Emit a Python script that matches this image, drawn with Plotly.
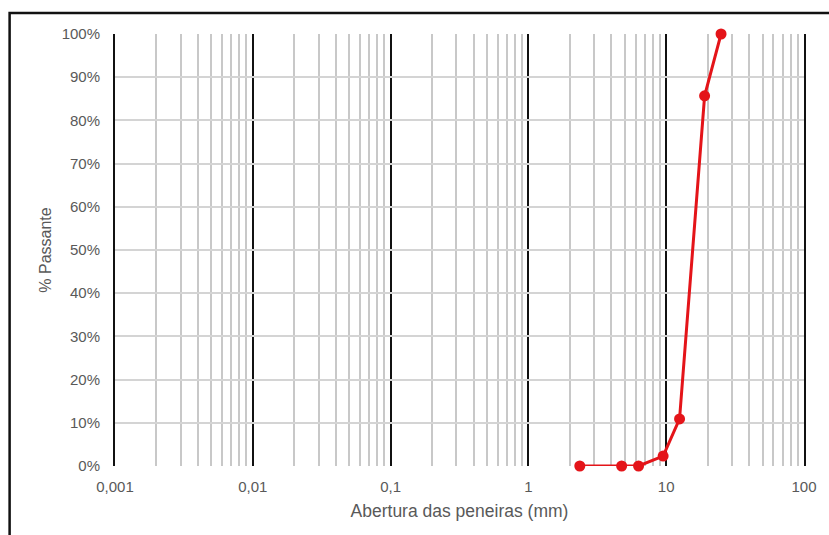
import plotly.graph_objects as go

# Sieve openings (mm) and cumulative percent passing
abertura_mm = [2.36, 4.75, 6.3, 9.5, 12.5, 19.0, 25.0]
passante_pct = [0.0, 0.0, 0.0, 2.3, 10.9, 85.7, 100.0]

x_tick_vals = [0.001, 0.01, 0.1, 1, 10, 100]
x_tick_text = ["0,001", "0,01", "0,1", "1", "10", "100"]
y_tick_vals = [0, 10, 20, 30, 40, 50, 60, 70, 80, 90, 100]
y_tick_text = [f"{v}%" for v in y_tick_vals]

# minor grid at 2..9 within every decade
minor_vals = [m * d for d in x_tick_vals[:-1] for m in range(2, 10)]

W, H = 829, 535
ML, MR, MT, MB = 115, 21, 34, 69
pw, ph = W - ML - MR, H - MT - MB

FONT = "Liberation Sans, Arial, sans-serif"
GREY_TXT = "#595959"

fig = go.Figure()
fig.add_trace(go.Scatter(
    x=abertura_mm, y=passante_pct, mode="lines+markers",
    line=dict(color="#e41419", width=3),
    marker=dict(color="#e41419", size=11),
    showlegend=False, cliponaxis=False,
))

fig.update_layout(
    width=W, height=H,
    margin=dict(l=ML, r=MR, t=MT, b=MB),
    paper_bgcolor="white", plot_bgcolor="white",
    xaxis=dict(
        type="log", range=[-3, 2],
        tickvals=x_tick_vals, ticktext=x_tick_text,
        showgrid=True, gridcolor="#111111", gridwidth=2,
        zeroline=False, showline=False,
        tickfont=dict(family=FONT, size=15, color=GREY_TXT),
        ticks="", ticklabelstandoff=10,
        minor=dict(tickvals=minor_vals, showgrid=True,
                   gridcolor="#c8c8c8", gridwidth=1.5, ticks=""),
        title=dict(text="Abertura das peneiras (mm)", standoff=10,
                   font=dict(family=FONT, size=17.5, color=GREY_TXT)),
    ),
    yaxis=dict(
        range=[0, 100], tickvals=y_tick_vals, ticktext=y_tick_text,
        showgrid=True, gridcolor="#d4d4d4", gridwidth=1.5,
        zeroline=False,
        # vertical black lines at the ends of the x range
        showline=True, linecolor="#111111", linewidth=2, mirror=True,
        tickfont=dict(family=FONT, size=15, color=GREY_TXT),
        ticks="", ticklabelstandoff=10,
        title=dict(text="% Passante", standoff=6,
                   font=dict(family=FONT, size=16, color=GREY_TXT)),
    ),
)

# outer frame around the chart area
fig.add_shape(
    type="rect", xref="paper", yref="paper",
    x0=(9 - ML) / pw, x1=(W + 10 - ML) / pw,
    y0=(H - MB - (H + 10)) / ph, y1=(H - MB - 13) / ph,
    line=dict(color="#111111", width=2.5), fillcolor="rgba(0,0,0,0)",
    layer="above",
)

fig.write_html("out.html")
